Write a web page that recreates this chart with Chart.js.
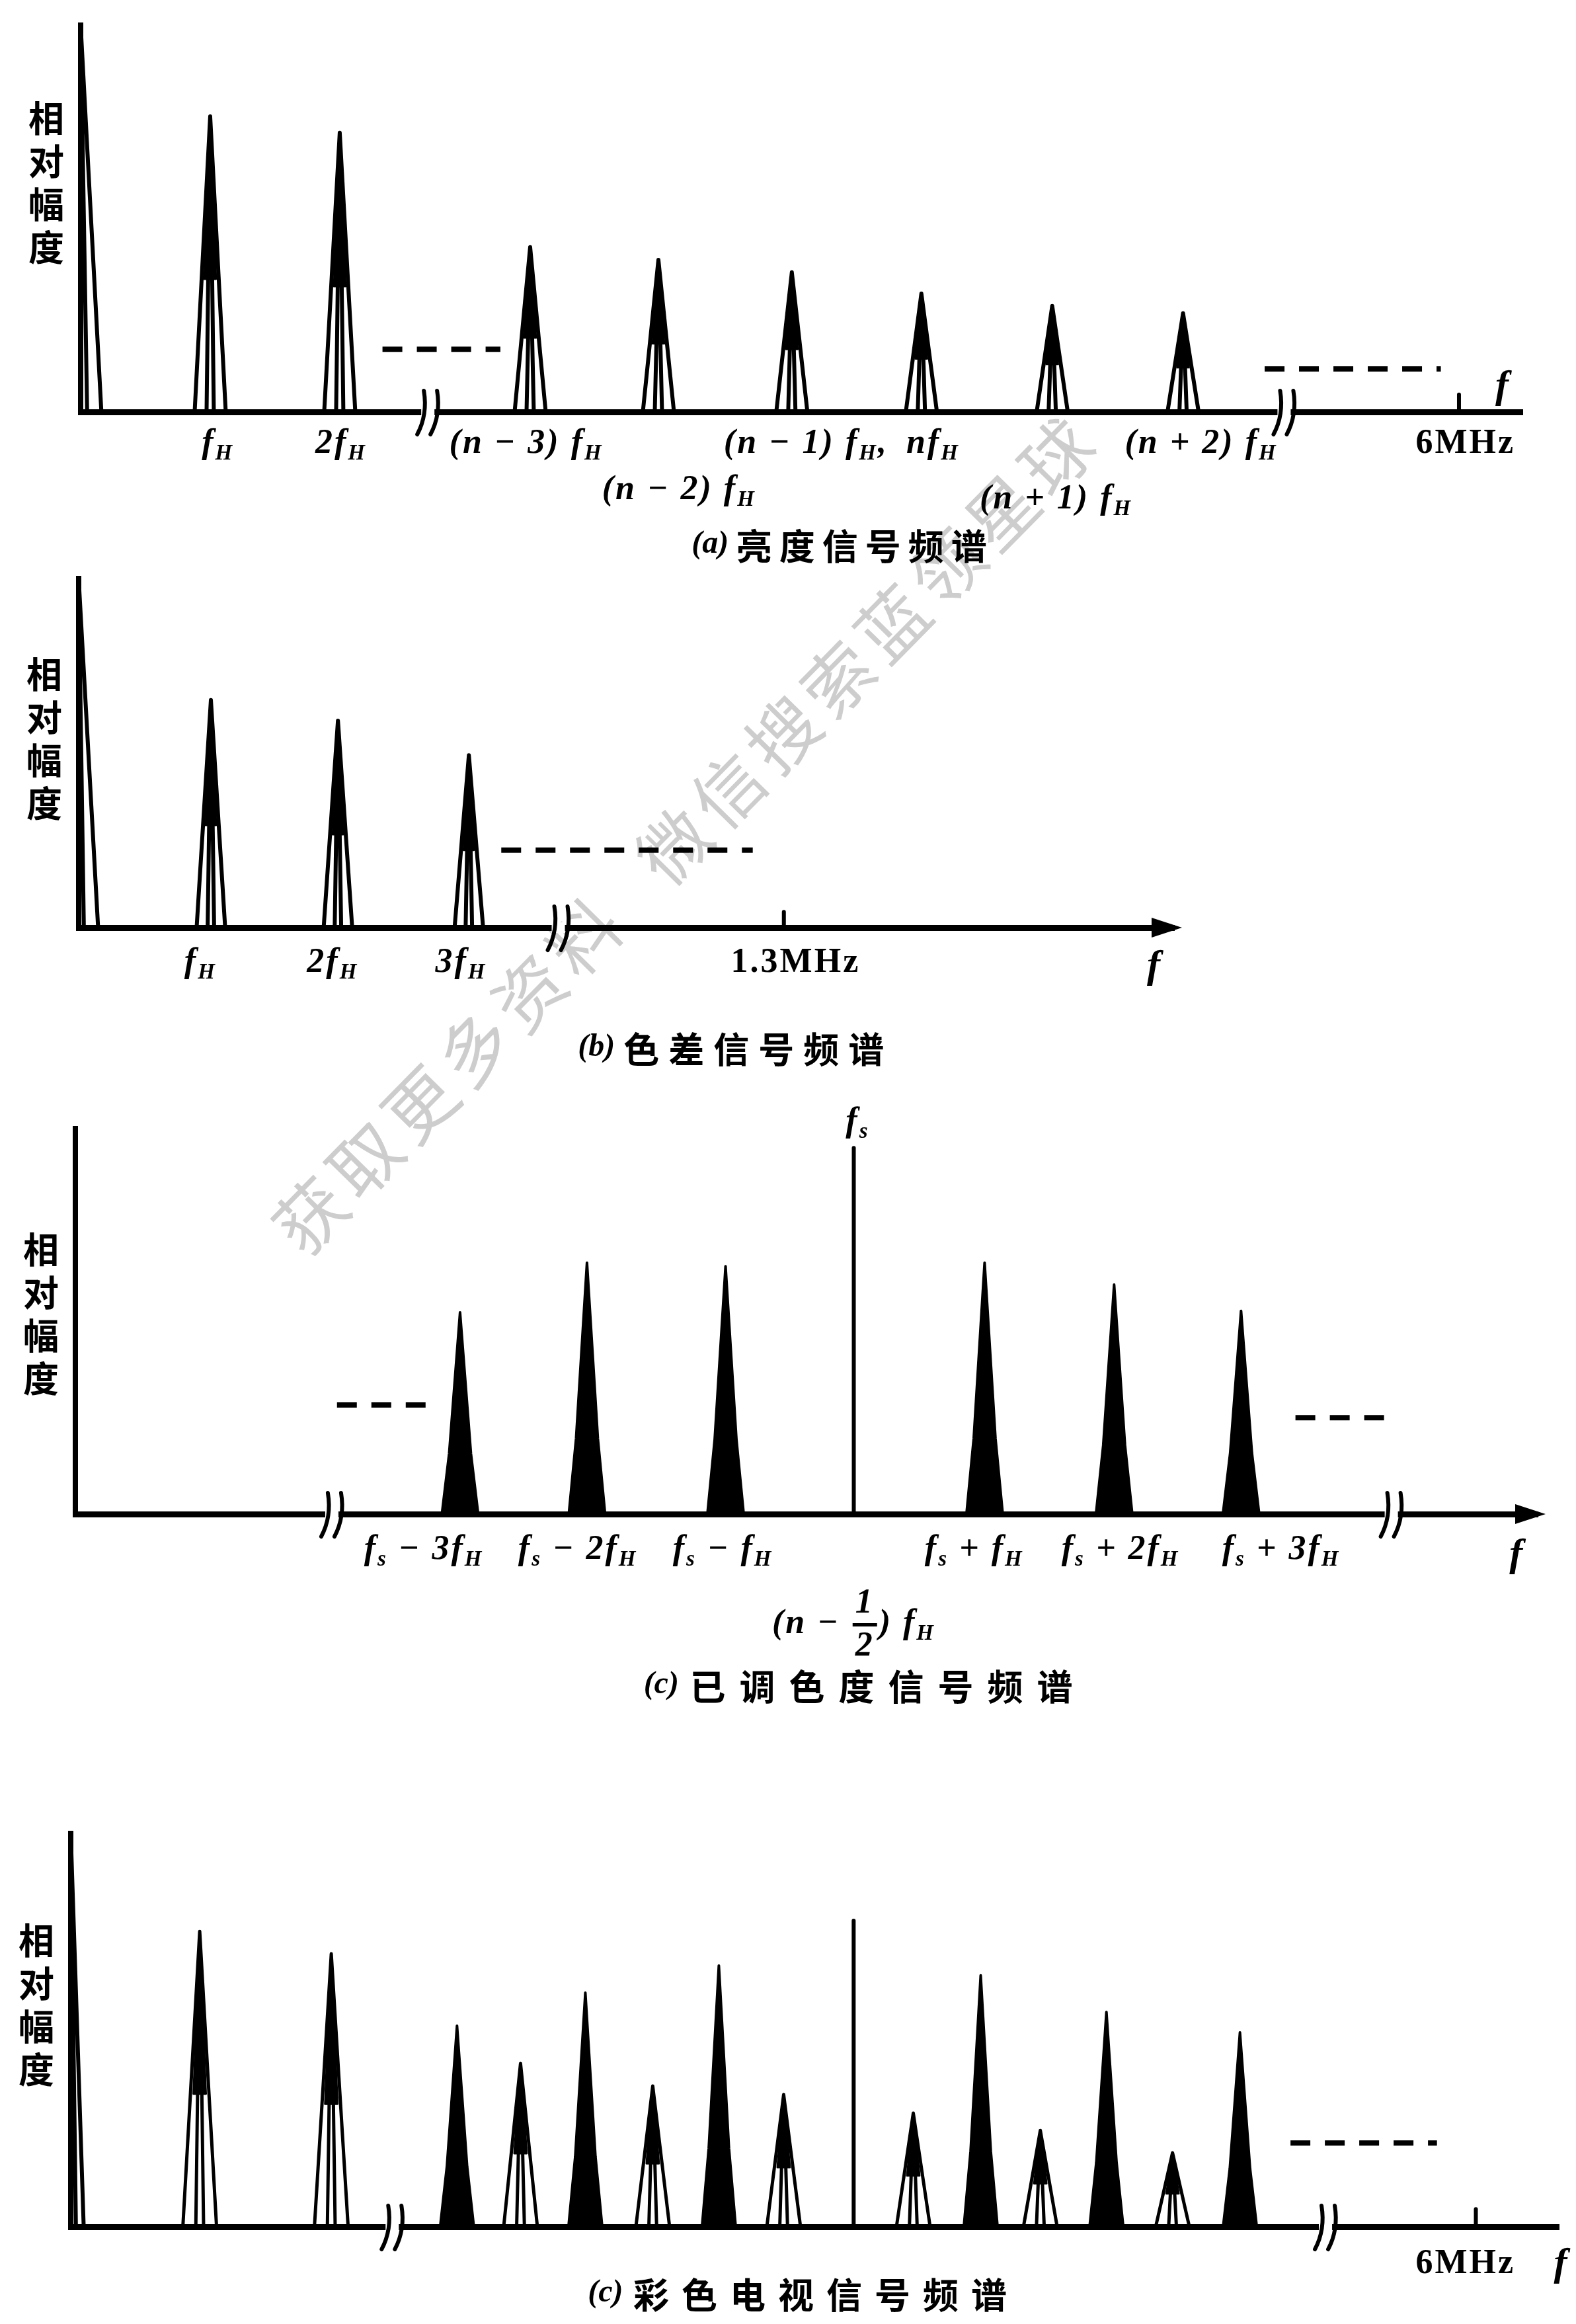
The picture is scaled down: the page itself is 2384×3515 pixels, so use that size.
<!DOCTYPE html>
<html>
<head>
<meta charset="utf-8">
<script src="https://cdn.jsdelivr.net/npm/chart.js@4.4.1/dist/chart.umd.min.js"></script>
<style>
  html, body { margin: 0; padding: 0; background: #fff; }
  body { width: 2384px; height: 3515px; position: relative; overflow: hidden; }
  canvas { position: absolute; left: 0; }
  #wm {
    position: absolute; left: 1034px; top: 1256px;
    transform: translate(-50%, -50%) rotate(-45.5deg);
    font: 400 106px "Noto Sans CJK SC"; color: #cdcdcd;
    white-space: nowrap; letter-spacing: 12px; word-spacing: 40px;
  }
</style>
</head>
<body>
<div id="wm">获取更多资料 微信搜索蓝领星球</div>
<canvas id="ca" width="2384" height="880" style="top:0px"></canvas>
<canvas id="cb" width="2384" height="800" style="top:850px"></canvas>
<canvas id="cc" width="2384" height="950" style="top:1650px"></canvas>
<canvas id="cd" width="2384" height="915" style="top:2600px"></canvas>
<script>
// x in units of one line frequency step (breaks compress the axis), y = relative amplitude (origin spike = 1)
const Y_LABEL = '相对幅度';

// (a) 亮度信号频谱
const lumaPeakPos = [1, 2, 3.47, 4.46, 5.49, 6.49, 7.5, 8.51];
const lumaPeakAmp = [0.764, 0.722, 0.426, 0.393, 0.361, 0.306, 0.274, 0.255];
const lumaLabels = ['f_H', '2f_H', '(n − 3) f_H', '(n − 2) f_H', '(n − 1) f_H,', 'nf_H', '(n + 1) f_H', '(n + 2) f_H', '6MHz'];
const lumaLabelPos = [1.06, 2.01, 3.44, 4.62, 5.6, 6.58, 7.53, 8.65, 10.69];
const lumaLabelRow = [0, 0, 0, 1, 0, 0, 2, 0, 0];
const lumaBreaks = [2.68, 9.29];
const lumaDashes = [[2.33, 3.24, 0.162], [9.14, 10.5, 0.111]];
const lumaTicks = [10.64];

// (b) 色差信号频谱
const diffPeakPos = [1.02, 2.0, 3.01];
const diffPeakAmp = [0.652, 0.593, 0.494];
const diffLabels = ['f_H', '2f_H', '3f_H', '1.3MHz'];
const diffLabelPos = [0.94, 1.96, 2.95, 5.53];
const diffBreaks = [3.7];
const diffDashes = [[3.26, 5.2, 0.222]];
const diffTicks = [5.44];

// (c) 已调色度信号频谱
const chromaPeakPos = [2.97, 3.95, 5.02, 7.02, 8.02, 9.0];
const chromaPeakAmp = [0.523, 0.652, 0.643, 0.652, 0.595, 0.527];
const chromaCarrierPos = 6.01;
const chromaCarrierAmp = 0.95;
const chromaLabels = ['f_s − 3f_H', 'f_s − 2f_H', 'f_s − f_H', 'f_s + f_H', 'f_s + 2f_H', 'f_s + 3f_H'];
const chromaLabelPos = [2.69, 3.88, 5.0, 6.94, 8.07, 9.31];
const chromaBreaks = [1.98, 10.16];
const chromaDashes = [[2.02, 2.71, 0.283], [9.42, 10.16, 0.25]];

// (d) 彩色电视信号频谱
const fullLumaPos = [0.995, 2.01, 3.47, 4.49, 5.5, 6.5, 7.48, 8.5];
const fullLumaAmp = [0.751, 0.694, 0.415, 0.358, 0.336, 0.289, 0.245, 0.188];
const fullChromaPos = [2.98, 3.97, 5.0, 7.02, 7.99, 9.02];
const fullChromaAmp = [0.511, 0.595, 0.664, 0.639, 0.546, 0.494];
const fullCarrierPos = 6.04;
const fullCarrierAmp = 0.778;
const fullLabels = ['6MHz'];
const fullLabelPos = [10.76];
const fullBreaks = [2.48, 9.68];
const fullDashes = [[9.41, 10.54, 0.213]];
const fullTicks = [10.84];

function lineDs(points, width, extra) {
  return Object.assign({
    type: 'line', data: points, showLine: true, borderColor: '#000', borderWidth: width,
    pointRadius: 0, fill: false, clip: false, tension: 0,
    borderJoinStyle: 'round', borderCapStyle: 'round'
  }, extra || {});
}

function outlinePeak(x, h, w, wi) {
  return [{x: x - w, y: 0}, {x: x, y: h}, {x: x + w, y: 0}, {x: x + wi, y: 0}, {x: x, y: h}, {x: x - wi, y: 0}];
}

// dark upper core of an outlined peak (closed triangle)
function peakCore(x, h, wi) {
  return [{x: x - wi * 1.6, y: h * 0.45}, {x: x, y: h}, {x: x + wi * 1.6, y: h * 0.45}, {x: x - wi * 1.6, y: h * 0.45}];
}

function solidPeak(x, h, w) {
  return [{x: x - w, y: 0}, {x: x - w * 0.6, y: h * 0.3}, {x: x, y: h}, {x: x + w * 0.6, y: h * 0.3}, {x: x + w, y: 0}];
}

function spike(w, wi) {
  return [{x: 0, y: 0}, {x: 0, y: 1}, {x: w, y: 0}, {x: wi, y: 0}, {x: 0, y: 1}];
}

function drawMath(ctx, text, cx, cy, size, upright) {
  const parts = [];
  for (let i = 0; i < text.length; i++) {
    const c = text[i];
    const last = parts[parts.length - 1];
    if (c === '_') { parts.push({t: text[i + 1], sub: true}); i++; }
    else if (c === '{') {
      const j = text.indexOf('}', i);
      parts.push({frac: text.slice(i + 1, j).split('/')});
      i = j;
    } else if (last && !last.sub && !last.frac) last.t += c;
    else parts.push({t: c});
  }
  const main = (upright ? '' : 'italic ') + 'bold ' + size + 'px "Liberation Serif"';
  const sub = 'italic bold ' + Math.round(size * 0.64) + 'px "Liberation Serif"';
  ctx.letterSpacing = '3px';
  let total = 0;
  parts.forEach(p => {
    if (p.frac) {
      ctx.font = main;
      p.w = Math.max(ctx.measureText(p.frac[0]).width, ctx.measureText(p.frac[1]).width) + 14;
    } else {
      ctx.font = p.sub ? sub : main;
      p.w = ctx.measureText(p.t).width;
    }
    total += p.w;
  });
  let x = cx - total / 2;
  ctx.textBaseline = 'middle';
  ctx.fillStyle = '#000';
  parts.forEach(p => {
    if (p.frac) {
      ctx.font = main;
      ctx.textAlign = 'center';
      ctx.fillText(p.frac[0], x + p.w / 2, cy - size * 0.6);
      ctx.fillText(p.frac[1], x + p.w / 2, cy + size * 0.65);
      ctx.fillRect(x + 3, cy - 2, p.w - 6, 5);
    } else {
      ctx.textAlign = 'left';
      ctx.font = p.sub ? sub : main;
      ctx.fillText(p.t, x, p.sub ? cy + size * 0.28 : cy);
    }
    x += p.w;
  });
  ctx.letterSpacing = '0px';
}

function drawCaption(ctx, prefix, text, cx, cy, advance) {
  ctx.font = 'italic bold 48px "Liberation Serif"';
  const pw = ctx.measureText(prefix).width + 6;
  const total = pw + advance * text.length;
  let x = cx - total / 2;
  ctx.textBaseline = 'middle';
  ctx.textAlign = 'left';
  ctx.fillStyle = '#000';
  ctx.fillText(prefix, x, cy);
  x += pw;
  ctx.font = 'bold 54px "Noto Sans CJK SC"';
  ctx.textAlign = 'center';
  for (const ch of text) {
    ctx.fillText(ch, x + advance / 2, cy + 2);
    x += advance;
  }
}

function makeDecor(spec) {
  return {
    id: 'decor',
    afterDatasetsDraw(chart) {
      const {ctx, chartArea: ca, scales: {x, y}} = chart;
      const base = y.getPixelForValue(0);
      ctx.save();
      // axis breaks
      spec.breaks.forEach(b => {
        const px = x.getPixelForValue(b);
        ctx.fillStyle = '#fff';
        ctx.fillRect(px - 10, base - 8, 20, 16);
        ctx.strokeStyle = '#000';
        ctx.lineWidth = 6;
        ctx.lineCap = 'round';
        [-10, 10].forEach(dx => {
          ctx.beginPath();
          ctx.moveTo(px + dx - 6, base + 34);
          ctx.quadraticCurveTo(px + dx + 10, base + 4, px + dx + 4, base - 32);
          ctx.stroke();
        });
      });
      // arrow head at the end of the frequency axis
      if (spec.arrow) {
        ctx.fillStyle = '#000';
        ctx.beginPath();
        ctx.moveTo(ca.right + 12, base);
        ctx.lineTo(ca.right - 34, base - 15);
        ctx.lineTo(ca.right - 34, base + 15);
        ctx.closePath();
        ctx.fill();
      }
      // tick labels under the axis
      spec.labels.forEach((t, i) => {
        const row = spec.rows ? spec.rows[i] : 0;
        drawMath(ctx, t, x.getPixelForValue(spec.labelPos[i]), base + spec.rowDy[row], 52, t.indexOf('MHz') >= 0);
      });
      (spec.extra || []).forEach(e => {
        drawMath(ctx, e.text, x.getPixelForValue(e.pos), base + e.dy, 52, false);
      });
      // axis name f
      drawMath(ctx, 'f', x.getPixelForValue(spec.fPos), base + spec.fDy, 60, false);
      // vertical axis title
      ctx.font = 'bold 54px "Noto Sans CJK SC"';
      ctx.textAlign = 'center';
      ctx.textBaseline = 'middle';
      ctx.fillStyle = '#000';
      [...Y_LABEL].forEach((ch, i) => {
        ctx.fillText(ch, ca.left - 52, ca.top + spec.yLabelTop + i * 65);
      });
      drawCaption(ctx, spec.capPrefix, spec.caption, x.getPixelForValue(spec.capPos), base + spec.capDy, spec.capAdvance);
      ctx.restore();
    }
  };
}

function build(spec) {
  const ds = [];
  if (spec.spike) ds.push(lineDs(spike(spec.spike[0], spec.spike[1]), 6));
  if (spec.outline) {
    const o = spec.outline;
    o.pos.forEach((p, i) => {
      ds.push(lineDs(outlinePeak(p, o.amp[i], o.w, o.wi), o.lw));
      ds.push(lineDs(peakCore(p, o.amp[i], o.wi), 3, {fill: 'shape', backgroundColor: '#000'}));
    });
  }
  if (spec.solid) {
    const s = spec.solid;
    s.pos.forEach((p, i) => ds.push(lineDs(solidPeak(p, s.amp[i], s.w), 4, {fill: 'origin', backgroundColor: '#000'})));
  }
  if (spec.carrier) ds.push(lineDs([{x: spec.carrier[0], y: 0}, {x: spec.carrier[0], y: spec.carrier[1]}], 6));
  spec.dashes.forEach(d => ds.push(lineDs([{x: d[0], y: d[2]}, {x: d[1], y: d[2]}], 8, {borderDash: [30, 22], borderCapStyle: 'butt'})));
  (spec.ticks || []).forEach(t => ds.push(lineDs([{x: t, y: 0}, {x: t, y: 0.045}], 6)));

  new Chart(document.getElementById(spec.canvas), {
    type: 'scatter',
    data: {datasets: ds},
    options: {
      responsive: false, animation: false, devicePixelRatio: 1,
      layout: {padding: spec.pad, autoPadding: false},
      plugins: {legend: {display: false}, tooltip: {enabled: false}},
      scales: {
        x: {type: 'linear', min: 0, max: spec.xMax, ticks: {display: false},
            grid: {display: false, drawTicks: false}, border: {display: true, width: 9, color: '#000'}},
        y: {type: 'linear', min: 0, max: 1, ticks: {display: false},
            grid: {display: false, drawTicks: false}, border: {display: true, width: 8, color: '#000'}}
      }
    },
    plugins: [makeDecor(spec)]
  });
}

build({
  canvas: 'ca', pad: {left: 122, right: 81, top: 38, bottom: 257}, xMax: 11.13,
  spike: [0.16, 0.05],
  outline: {pos: lumaPeakPos, amp: lumaPeakAmp, w: 0.12, wi: 0.028, lw: 6},
  dashes: lumaDashes, ticks: lumaTicks, breaks: lumaBreaks,
  labels: lumaLabels, labelPos: lumaLabelPos, rows: lumaLabelRow, rowDy: [49, 119, 133],
  fPos: 10.98, fDy: -38, yLabelTop: 141,
  capPrefix: '(a)', caption: '亮度信号频谱', capPos: 5.87, capDy: 201, capAdvance: 65
});

build({
  canvas: 'cb', pad: {left: 119, right: 608, top: 25, bottom: 247}, xMax: 8.45,
  spike: [0.15, 0.04],
  outline: {pos: diffPeakPos, amp: diffPeakAmp, w: 0.11, wi: 0.025, lw: 6},
  dashes: diffDashes, ticks: diffTicks, breaks: diffBreaks, arrow: true,
  labels: diffLabels, labelPos: diffLabelPos, rowDy: [54],
  fPos: 8.3, fDy: 59, yLabelTop: 145,
  capPrefix: '(b)', caption: '色差信号频谱', capPos: 5.05, capDy: 182, capAdvance: 68
});

build({
  canvas: 'cc', pad: {left: 114, right: 58, top: 57, bottom: 310}, xMax: 11.29,
  solid: {pos: chromaPeakPos, amp: chromaPeakAmp, w: 0.14},
  carrier: [chromaCarrierPos, chromaCarrierAmp],
  dashes: chromaDashes, breaks: chromaBreaks, arrow: true,
  labels: chromaLabels, labelPos: chromaLabelPos, rowDy: [55],
  extra: [
    {text: 'f_s', pos: chromaCarrierPos + 0.03, dy: -592},
    {text: '(n − {1/2}) f_H', pos: chromaCarrierPos, dy: 167}
  ],
  fPos: 11.13, fDy: 62, yLabelTop: 183,
  capPrefix: '(c)', caption: '已调色度信号频谱', capPos: 6.07, capDy: 259, capAdvance: 75
});

build({
  canvas: 'cd', pad: {left: 107, right: 26, top: 173, bottom: 147}, xMax: 11.48,
  spike: [0.1, 0.04],
  outline: {pos: fullLumaPos, amp: fullLumaAmp, w: 0.13, wi: 0.03, lw: 5},
  solid: {pos: fullChromaPos, amp: fullChromaAmp, w: 0.13},
  carrier: [fullCarrierPos, fullCarrierAmp],
  dashes: fullDashes, ticks: fullTicks, breaks: fullBreaks,
  labels: fullLabels, labelPos: fullLabelPos, rowDy: [57],
  fPos: 11.5, fDy: 57, yLabelTop: 162,
  capPrefix: '(c)', caption: '彩色电视信号频谱', capPos: 5.63, capDy: 101, capAdvance: 73
});
</script>
</body>
</html>
